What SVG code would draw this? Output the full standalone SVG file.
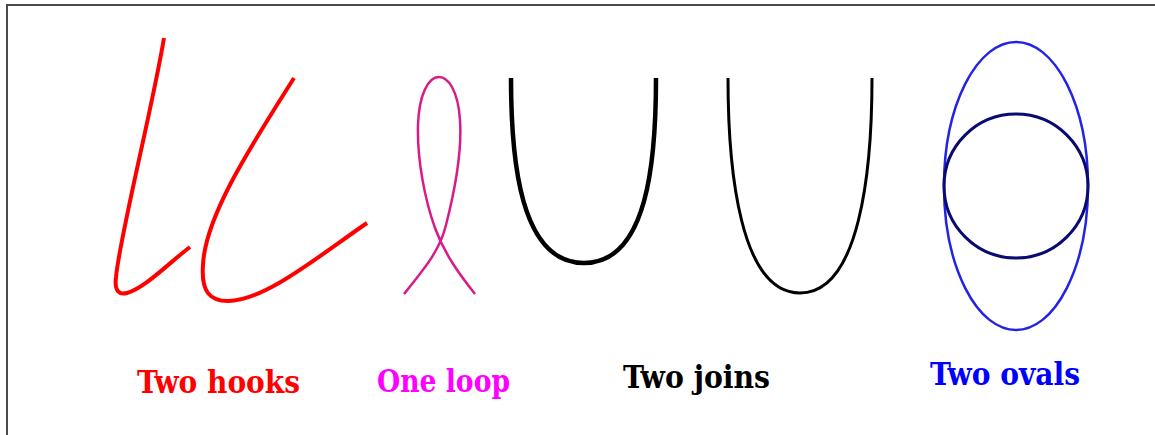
<svg xmlns="http://www.w3.org/2000/svg" width="1155" height="435" viewBox="0 0 1155 435">
<style>
.lbl{font-family:"DejaVu Serif Condensed","DejaVu Serif",serif;font-weight:bold;font-size:32px}
.c{fill:none;stroke-linecap:butt;stroke-linejoin:round}
</style>
<rect x="0" y="0" width="1155" height="435" fill="#ffffff"/>
<path d="M7,435 V5 H1156" fill="none" stroke="#4a4a4a" stroke-width="2"/>
<g id="hooks">
<path class="c" stroke="#ff0000" stroke-width="4" d="M164,38 C152,110 120,235 116,277 C114,292 120,295 127,293 C145,288 170,262 190,247"/>
<path class="c" stroke="#ff0000" stroke-width="4" d="M294,78 C255,140 205,215 203,265 C201,292 210,301 228,301 C265,301 320,255 367,223"/>
<text class="lbl" x="137" y="393" fill="#ff0000" textLength="163" lengthAdjust="spacingAndGlyphs">Two hooks</text>
</g>
<g id="loop">
<path class="c" stroke="#d81b87" stroke-width="2.5" d="M404,294 C425,268 440,250 446,225 C455,190 462,150 460,120 C458,90 448,77 439,77 C428,77 419,95 418,125 C417,160 425,200 435,228 C445,255 460,275 475,294"/>
<text class="lbl" x="377" y="392" fill="#ff00ff" textLength="133" lengthAdjust="spacingAndGlyphs">One loop</text>
</g>
<g id="joins">
<path class="c" stroke="#000000" stroke-width="4.5" d="M511,78 C511,160 520,263 584,263 C648,263 656,160 656,78"/>
<path class="c" stroke="#000000" stroke-width="3" d="M728,78 C728,170 740,293 800,293 C860,293 872,170 872,78"/>
<text class="lbl" x="623" y="388" fill="#000000" textLength="147" lengthAdjust="spacingAndGlyphs">Two joins</text>
</g>
<g id="ovals">
<ellipse cx="1016" cy="186" rx="72" ry="144" fill="none" stroke="#2323e6" stroke-width="2.5"/>
<circle cx="1016" cy="186" r="72" fill="none" stroke="#0a0a70" stroke-width="3"/>
<text class="lbl" x="930" y="385" fill="#0000ff" textLength="150" lengthAdjust="spacingAndGlyphs">Two ovals</text>
</g>
<g id="connectors"/>
</svg>
